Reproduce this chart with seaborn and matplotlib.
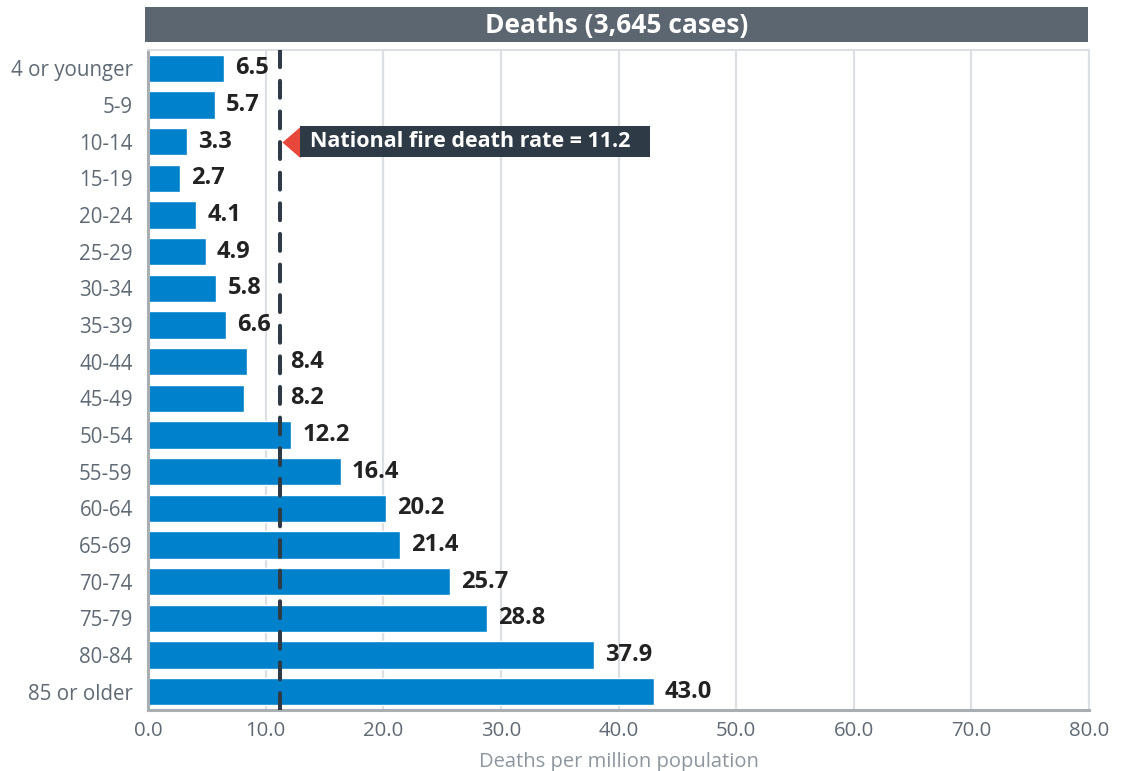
"""Fire death rate by age group."""

import matplotlib.pyplot as plt
import numpy as np
import pandas as pd
import seaborn as sns
from matplotlib.patches import Rectangle

sns.set_theme(style="white")
plt.rcParams["font.family"] = ["Open Sans", "DejaVu Sans"]

age_groups = [
    "4 or younger", "5-9", "10-14", "15-19", "20-24", "25-29", "30-34",
    "35-39", "40-44", "45-49", "50-54", "55-59", "60-64", "65-69",
    "70-74", "75-79", "80-84", "85 or older",
]
death_rates = [
    6.5, 5.7, 3.3, 2.7, 4.1, 4.9, 5.8, 6.6, 8.4, 8.2,
    12.2, 16.4, 20.2, 21.4, 25.7, 28.8, 37.9, 43.0,
]
national_rate = 11.2
title = "Deaths (3,645 cases)"
xlabel = "Deaths per million population"
xticks = [0, 10, 20, 30, 40, 50, 60, 70, 80]

BAR = "#0081cc"
DARK = "#2e3a45"
TICK_TXT = "#5f6a74"
GRID = "#dcdfe3"
AXIS = "#a9aeb3"

df = pd.DataFrame({"age": age_groups, "rate": death_rates})

fig = plt.figure(figsize=(11.22, 7.71), dpi=100)
ax = fig.add_axes([0.1319, 0.0791, 0.8387, 0.856])

sns.barplot(data=df, x="rate", y="age", orient="h", color=BAR,
            width=0.74, saturation=1, ax=ax)

ax.set_xlim(0, 80)
ax.set_ylim(len(age_groups) - 0.5, -0.5)
ax.set_xticks(xticks)
ax.set_xticklabels([f"{v:.1f}" for v in xticks])
ax.set_xlabel(xlabel, color="#8d969e", fontsize=14.5, labelpad=8)
ax.set_ylabel("")

ax.grid(axis="x", color=GRID, linewidth=1.6, zorder=0)
ax.set_axisbelow(True)
for side in ["top", "right"]:
    ax.spines[side].set_color(GRID)
    ax.spines[side].set_linewidth(1.4)
for side in ["left", "bottom"]:
    ax.spines[side].set_color(AXIS)
    ax.spines[side].set_linewidth(2.2)

ax.tick_params(axis="x", length=0, pad=8, labelsize=14.7, labelcolor=TICK_TXT)
ax.tick_params(axis="y", which="major", length=0, pad=11, labelsize=14.8,
               labelcolor=TICK_TXT)
ax.set_yticks(np.arange(-0.5, len(age_groups)), minor=True)
ax.tick_params(axis="y", which="minor", length=17, width=1.6, color=AXIS)

# national average line
ax.axvline(national_rate, color=DARK, linewidth=2.9, dashes=(4.2, 3.4),
           dash_capstyle="round", zorder=4)

# value labels, moved past the dashed line when they would cross it
for i, v in enumerate(death_rates):
    x = v + 0.95
    if x < national_rate < x + 3.4:
        x = national_rate + 0.85
    ax.text(x, i, f"{v:.1f}", va="center", ha="left", fontsize=17,
            fontweight="bold", color="#222222", zorder=5)

# callout for national rate
tri = [(-0.58, 0), (0.58, -1), (0.58, 1)]
ax.plot(national_rate + 0.96, 2, marker=tri, markersize=22.5,
        color="#e8483b", markeredgewidth=0, zorder=6)
note = ax.text(national_rate + 2.58, 2,
               f"National fire death rate = {national_rate}",
               va="center", ha="left", fontsize=15.5, fontweight="bold",
               color="white", zorder=7)
fig.canvas.draw()
bb = note.get_window_extent(fig.canvas.get_renderer())
y_mid = ax.transData.transform((0, 2))[1]
ax.add_patch(Rectangle((bb.x0 - 10, y_mid - 15.5), bb.width + 30, 31,
                       transform=None, fc=DARK, ec="none", zorder=6))

# title bar
tax = fig.add_axes([0.1292, 0.9455, 0.8405, 0.0454])
tax.set_facecolor("#5b6670")
tax.set_xticks([])
tax.set_yticks([])
for s in tax.spines.values():
    s.set_visible(False)
tax.text(0.5, 0.48, title, ha="center", va="center", color="white",
         fontsize=19, fontweight="bold", transform=tax.transAxes)

fig.savefig("out.png", dpi=100)
plt.close(fig)
